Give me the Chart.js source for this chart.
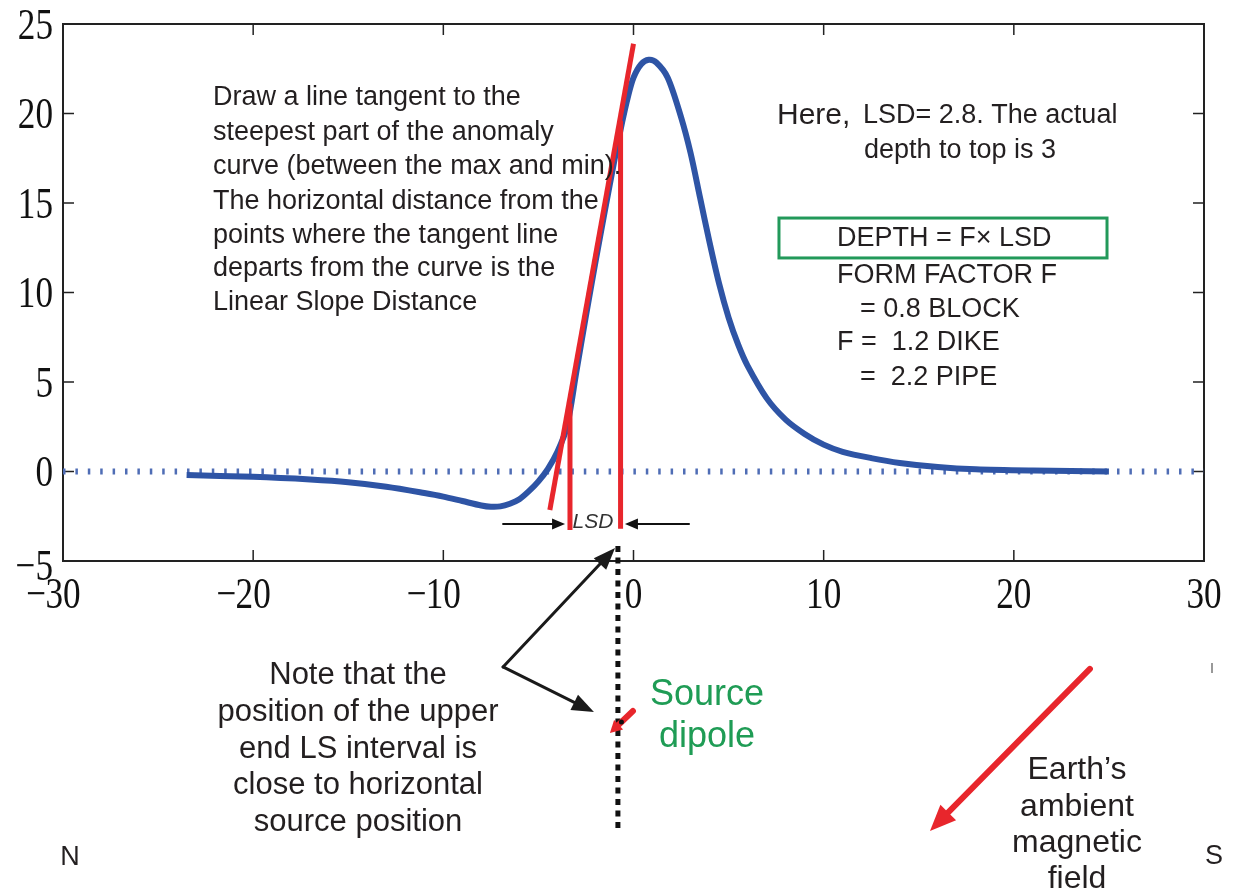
<!DOCTYPE html>
<html>
<head>
<meta charset="utf-8">
<script src="https://cdn.jsdelivr.net/npm/chart.js@4.4.1/dist/chart.umd.min.js"></script>
<style>
  html, body { margin: 0; padding: 0; background: #fff; }
  canvas { display: block; }
</style>
</head>
<body>
<canvas id="chart" width="1234" height="891"></canvas>
<script>
// anomaly curve
const curveX = [-23.5, -20, -17, -15, -13, -11, -10, -9, -8, -7.5, -7, -6.5, -6, -5.5, -5, -4.5, -4, -3.5, -3, -2.5, -2, -1.5, -1, -0.6, -0.3, 0, 0.4, 0.8, 1.2, 1.8, 2.5, 3, 3.5, 4, 4.5, 5, 5.5, 6, 7, 8, 9, 10, 11, 12.5, 14, 16, 18, 21, 25];
const curveY = [-0.2, -0.3, -0.45, -0.6, -0.85, -1.2, -1.4, -1.65, -1.9, -1.97, -1.95, -1.8, -1.55, -1.1, -0.55, 0.15, 1.1, 2.5, 5.6, 8.7, 11.7, 14.6, 17.4, 19.5, 20.9, 22.0, 22.75, 23.0, 22.85, 22.0, 19.8, 17.8, 15.3, 12.8, 10.5, 8.6, 7.1, 5.9, 4.1, 2.9, 2.1, 1.5, 1.1, 0.75, 0.48, 0.25, 0.12, 0.05, 0.0];

const baselineX = [-30, 30];
const baselineY = [0, 0];

const tangentX = [-4.4, 0];
const tangentY = [-2.15, 23.9];
const lsdStartX = [-3.34, -3.34];
const lsdStartY = [3.8, -3.27];
const lsdEndX = [-0.68, -0.68];
const lsdEndY = [19.6, -3.2];

const X_MIN = -30, X_MAX = 30, X_STEP = 10;
const Y_MIN = -5, Y_MAX = 25, Y_STEP = 5;

const paragraph = [
  'Draw a line tangent to the',
  'steepest part of the anomaly',
  'curve (between the max and min).',
  'The horizontal distance from the',
  'points where the tangent line',
  'departs from the curve is the',
  'Linear Slope Distance',
];
const noteLines = [
  'Note that the',
  'position of the upper',
  'end LS interval is',
  'close to horizontal',
  'source position',
];
const fieldLines = ['Earth\u2019s', 'ambient', 'magnetic', 'field'];

const BLUE = '#2e54a5';
const RED = '#e8262c';
const GREEN = '#22995a';
const INK = '#231f20';

function toPoints(xs, ys) {
  return xs.map((x, i) => ({ x, y: ys[i] }));
}

function pt(chart, x, y) {
  return [chart.scales.x.getPixelForValue(x), chart.scales.y.getPixelForValue(y)];
}

function arrow(ctx, x1, y1, x2, y2, color, width, headLen, headW) {
  const ang = Math.atan2(y2 - y1, x2 - x1);
  const bx = x2 - Math.cos(ang) * headLen;
  const by = y2 - Math.sin(ang) * headLen;
  ctx.save();
  ctx.strokeStyle = color;
  ctx.fillStyle = color;
  ctx.lineWidth = width;
  ctx.lineCap = 'round';
  ctx.beginPath();
  ctx.moveTo(x1, y1);
  ctx.lineTo(bx, by);
  ctx.stroke();
  ctx.beginPath();
  ctx.moveTo(x2, y2);
  ctx.lineTo(bx + Math.sin(ang) * headW / 2, by - Math.cos(ang) * headW / 2);
  ctx.lineTo(bx - Math.sin(ang) * headW / 2, by + Math.cos(ang) * headW / 2);
  ctx.closePath();
  ctx.fill();
  ctx.restore();
}

function text(ctx, str, x, y, size, opts = {}) {
  ctx.save();
  ctx.font = `${opts.italic ? 'italic ' : ''}${size}px "Liberation Sans", Arial, sans-serif`;
  ctx.fillStyle = opts.color || INK;
  ctx.textAlign = opts.align || 'left';
  ctx.textBaseline = 'middle';
  ctx.fillText(str, x, y);
  ctx.restore();
}

// matlab style frame: box, inward ticks on all sides, condensed serif labels
const framePlugin = {
  id: 'frame',
  beforeDatasetsDraw(chart) {
    const { ctx, chartArea: a, scales } = chart;
    ctx.save();
    ctx.strokeStyle = '#222';
    ctx.lineWidth = 2;
    ctx.strokeRect(a.left, a.top, a.right - a.left, a.bottom - a.top);
    ctx.lineWidth = 1.5;
    scales.x.ticks.forEach((t) => {
      if (t.value <= X_MIN || t.value >= X_MAX) return;
      const p = scales.x.getPixelForValue(t.value);
      ctx.beginPath();
      ctx.moveTo(p, a.bottom); ctx.lineTo(p, a.bottom - 11);
      ctx.moveTo(p, a.top); ctx.lineTo(p, a.top + 11);
      ctx.stroke();
    });
    scales.y.ticks.forEach((t) => {
      if (t.value <= Y_MIN || t.value >= Y_MAX) return;
      const p = scales.y.getPixelForValue(t.value);
      ctx.beginPath();
      ctx.moveTo(a.left, p); ctx.lineTo(a.left + 11, p);
      ctx.moveTo(a.right, p); ctx.lineTo(a.right - 11, p);
      ctx.stroke();
    });
    ctx.restore();

    const SX = 0.8;
    ctx.save();
    ctx.fillStyle = '#111';
    ctx.font = '44px "Liberation Serif", "Times New Roman", serif';
    ctx.textBaseline = 'alphabetic';
    scales.x.ticks.forEach((t) => {
      const p = scales.x.getPixelForValue(t.value);
      const digits = String(Math.abs(t.value));
      const dw = ctx.measureText(digits).width * SX;
      ctx.save();
      ctx.translate(p - dw / 2, a.bottom + 47);
      ctx.scale(SX, 1);
      ctx.textAlign = 'left';
      ctx.fillText(digits, 0, 0);
      if (t.value < 0) {
        ctx.textAlign = 'right';
        ctx.fillText('\u2212', 1, 0);
      }
      ctx.restore();
    });
    scales.y.ticks.forEach((t) => {
      const p = scales.y.getPixelForValue(t.value);
      const label = (t.value < 0 ? '\u2212' : '') + Math.abs(t.value);
      ctx.save();
      ctx.translate(a.left - 10, p + 14.5 + (t.value === Y_MIN ? 4 : 0));
      ctx.scale(SX, 1);
      ctx.textAlign = 'right';
      ctx.fillText(label, 0, 0);
      ctx.restore();
    });
    ctx.restore();
  },
  afterDraw(chart) {
    const { ctx } = chart;

    // LSD arrows and label
    let [a1, b1] = pt(chart, -6.86, -2.93);
    let [a2, b2] = pt(chart, -3.6, -2.93);
    arrow(ctx, a1, b1, a2, b2, '#111', 2, 13, 11);
    [a1, b1] = pt(chart, 2.92, -2.93);
    [a2, b2] = pt(chart, -0.45, -2.93);
    arrow(ctx, a1, b1, a2, b2, '#111', 2, 13, 11);
    const [lx, ly] = pt(chart, -2.13, -2.85);
    text(ctx, 'LSD', lx, ly, 21, { italic: true, align: 'center', color: '#333' });

    // dotted vertical through the source
    const [dx, dy1] = pt(chart, -0.82, -4.16);
    const [, dy2] = pt(chart, -0.82, -20.03);
    ctx.save();
    ctx.strokeStyle = '#111';
    ctx.lineWidth = 5;
    ctx.setLineDash([6, 5.5]);
    ctx.beginPath();
    ctx.moveTo(dx, dy1);
    ctx.lineTo(dx, dy2);
    ctx.stroke();
    ctx.restore();

    // note arrows
    const [vx, vy] = pt(chart, -6.86, -10.92);
    let [tx, ty] = pt(chart, -0.97, -4.27);
    arrow(ctx, vx, vy, tx, ty, '#1a1a1a', 3, 22, 17);
    [tx, ty] = pt(chart, -2.08, -13.44);
    arrow(ctx, vx, vy, tx, ty, '#1a1a1a', 3, 22, 17);

    // source dipole
    [a1, b1] = pt(chart, -0.03, -13.38);
    [a2, b2] = pt(chart, -1.24, -14.61);
    arrow(ctx, a1, b1, a2, b2, RED, 6, 12, 13);
    ctx.save();
    ctx.fillStyle = '#111';
    ctx.beginPath();
    ctx.arc((a1 + a2) / 2, (b1 + b2) / 2, 2.5, 0, Math.PI * 2);
    ctx.fill();
    ctx.restore();

    // earth field arrow
    [a1, b1] = pt(chart, 24.0, -11.03);
    [a2, b2] = pt(chart, 15.59, -20.08);
    arrow(ctx, a1, b1, a2, b2, RED, 6, 26, 22);

    // formula box
    const [gx1, gy1] = pt(chart, 7.65, 14.16);
    const [gx2, gy2] = pt(chart, 24.9, 11.93);
    ctx.save();
    ctx.strokeStyle = GREEN;
    ctx.lineWidth = 3;
    ctx.strokeRect(gx1, gy1, gx2 - gx1, gy2 - gy1);
    ctx.restore();

    // texts
    const paraY = [98, 133, 167, 202, 236, 269, 303];
    paragraph.forEach((s, i) => text(ctx, s, 213, paraY[i], 27));

    text(ctx, 'Here,', 777, 116, 30);
    text(ctx, 'LSD= 2.8. The actual', 863, 116, 27);
    text(ctx, 'depth to top is 3', 960, 151, 27, { align: 'center' });

    text(ctx, 'DEPTH = F\u00d7 LSD', 837, 239, 27);
    text(ctx, 'FORM FACTOR F', 837, 276, 27);
    text(ctx, '= 0.8 BLOCK', 860, 310, 27);
    text(ctx, 'F =  1.2 DIKE', 837, 343, 27);
    text(ctx, '=  2.2 PIPE', 860, 378, 27);

    const noteY = [675, 712, 749, 785, 822];
    noteLines.forEach((s, i) => text(ctx, s, 358, noteY[i], 31, { align: 'center' }));

    text(ctx, 'Source', 707, 695, 36, { align: 'center', color: '#1f9c55' });
    text(ctx, 'dipole', 707, 737, 36, { align: 'center', color: '#1f9c55' });

    const fieldY = [770, 807, 843, 879];
    fieldLines.forEach((s, i) => text(ctx, s, 1077, fieldY[i], 32, { align: 'center' }));

    text(ctx, 'N', 70, 858, 27, { align: 'center' });
    text(ctx, 'S', 1214, 857, 27, { align: 'center' });

    ctx.save();
    ctx.strokeStyle = '#777';
    ctx.lineWidth = 1.5;
    ctx.beginPath();
    ctx.moveTo(1212, 663);
    ctx.lineTo(1212, 673);
    ctx.stroke();
    ctx.restore();
  },
};

new Chart(document.getElementById('chart'), {
  type: 'scatter',
  data: {
    datasets: [
      {
        data: toPoints(tangentX, tangentY),
        showLine: true,
        borderColor: RED,
        borderWidth: 5,
        pointRadius: 0,
        order: 0,
      },
      {
        data: toPoints(lsdStartX, lsdStartY),
        showLine: true,
        borderColor: RED,
        borderWidth: 5,
        pointRadius: 0,
        order: 0,
      },
      {
        data: toPoints(lsdEndX, lsdEndY),
        showLine: true,
        borderColor: RED,
        borderWidth: 5,
        pointRadius: 0,
        order: 0,
      },
      {
        data: toPoints(curveX, curveY),
        showLine: true,
        borderColor: BLUE,
        borderWidth: 6,
        borderJoinStyle: 'round',
        borderCapStyle: 'butt',
        pointRadius: 0,
        tension: 0.3,
        order: 1,
      },
      {
        data: toPoints(baselineX, baselineY),
        showLine: true,
        borderColor: '#4f6db5',
        borderWidth: 6,
        borderDash: [2.5, 9.9],
        borderCapStyle: 'butt',
        pointRadius: 0,
        order: 2,
      },
    ],
  },
  options: {
    responsive: false,
    devicePixelRatio: 1,
    animation: false,
    layout: { padding: { left: 63, right: 30, top: 24, bottom: 330 } },
    plugins: {
      legend: { display: false },
      tooltip: { enabled: false },
    },
    scales: {
      x: {
        type: 'linear',
        min: X_MIN,
        max: X_MAX,
        ticks: { display: false, stepSize: X_STEP },
        grid: { display: false },
        border: { display: false },
        afterFit(scale) { scale.height = 0; },
      },
      y: {
        type: 'linear',
        min: Y_MIN,
        max: Y_MAX,
        ticks: { display: false, stepSize: Y_STEP },
        grid: { display: false },
        border: { display: false },
        afterFit(scale) { scale.width = 0; },
      },
    },
  },
  plugins: [framePlugin],
});
</script>
</body>
</html>
